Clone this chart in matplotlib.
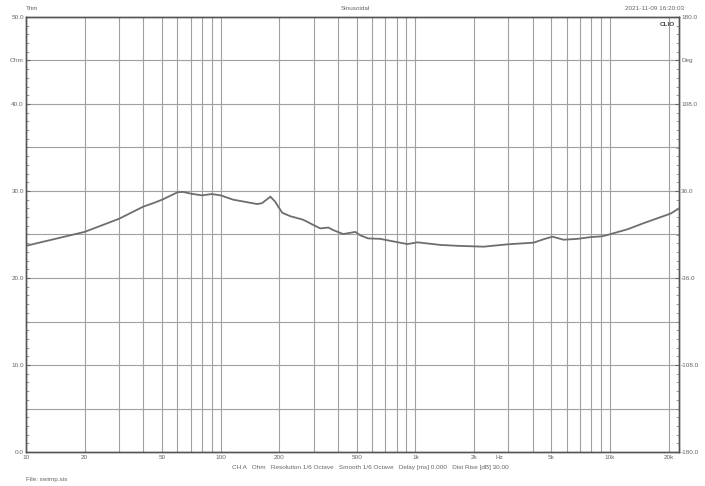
import numpy as np
import matplotlib
matplotlib.use("Agg")
import matplotlib.pyplot as plt
from matplotlib.ticker import FixedLocator, NullFormatter

plt.rcParams['font.family'] = ['Liberation Sans', 'DejaVu Sans']

# impedance curve (Hz, Ohm)
freq = [10, 20, 30, 40, 45, 50, 60, 64, 70, 80, 90, 100, 116, 130, 154, 163,
        180, 190, 207, 228, 265, 299, 325, 357, 379, 426, 492, 521, 573, 660,
        837, 910, 1025, 1345, 1645, 2240, 2970, 4045, 4550, 5060, 5770, 6810,
        7940, 9150, 10070, 12300, 14860, 18200, 20460, 22600]
ohm = [23.7, 25.3, 26.8, 28.2, 28.6, 29.0, 29.85, 29.9, 29.7, 29.5, 29.65, 29.5,
       29.0, 28.8, 28.5, 28.6, 29.35, 28.8, 27.5, 27.1, 26.7, 26.1, 25.7, 25.8,
       25.5, 25.05, 25.3, 24.9, 24.55, 24.5, 24.05, 23.9, 24.1, 23.8, 23.7,
       23.6, 23.87, 24.06, 24.45, 24.75, 24.4, 24.5, 24.7, 24.8, 25.05, 25.6,
       26.3, 27.0, 27.4, 28.0]

xticks = [10, 20, 50, 100, 200, 500, 1000, 2000, 5000, 10000, 20000]
xlabels = ["10", "20", "50", "100", "200", "500", "1k", "2k", "5k", "10k", "20k"]
yticks = [0, 10, 20, 30, 40, 45, 50]
ylabels = ["0.0", "10.0", "20.0", "30.0", "40.0", "Ohm", "50.0"]
rticks = [-180, -108, -36, 36, 108, 144, 180]
rlabels = ["-180.0", "-108.0", "-36.0", "36.0", "108.0", "Deg", "180.0"]

txt = "#666666"
fs = 4.6

fig = plt.figure(figsize=(7.05, 4.86), dpi=100)
ax = fig.add_axes([26/705, 1-452/486, (679-26)/705, (452-17)/486])

# grid
vgrid = [m*10**d for d in range(1, 5) for m in range(1, 10) if 10 < m*10**d < 22600]
for v in vgrid:
    ax.axvline(v, color="#a0a0a0", lw=0.8, zorder=1)
for h in range(5, 50, 5):
    ax.axhline(h, color="#a0a0a0", lw=0.8, zorder=1)

ax.plot(freq, ohm, color="#6e6e6e", lw=1.3, zorder=3)

ax.set_xscale("log")
ax.set_xlim(10, 22600)
ax.set_ylim(0, 50)
ax.xaxis.set_major_locator(FixedLocator(xticks))
ax.set_xticklabels(xlabels)
ax.xaxis.set_minor_locator(FixedLocator([]))
ax.xaxis.set_minor_formatter(NullFormatter())
ax.set_yticks(yticks)
ax.set_yticklabels(ylabels)
ax.yaxis.set_minor_locator(FixedLocator(range(0, 51)))
ax.tick_params(axis="x", length=0, labelsize=fs, labelcolor=txt, pad=2)
ax.tick_params(axis="y", which="major", length=3, direction="in", labelsize=fs, labelcolor=txt, pad=1.5, color="#666666")
ax.tick_params(axis="y", which="minor", length=2, direction="in", color="#888888")
for s in ax.spines.values():
    s.set_color("#555555")
    s.set_linewidth(1.0)

ax2 = ax.twinx()
ax2.set_ylim(-180, 180)
ax2.set_yticks(rticks)
ax2.set_yticklabels(rlabels)
ax2.yaxis.set_minor_locator(FixedLocator(np.arange(-180, 181, 7.2)))
ax2.tick_params(axis="y", which="major", length=3, direction="in", labelsize=fs, labelcolor=txt, pad=1.5, color="#666666")
ax2.tick_params(axis="y", which="minor", length=2, direction="in", color="#888888")
for s in ax2.spines.values():
    s.set_color("#555555")
    s.set_linewidth(1.0)

fig.text(32/705, 1-8/486, "Trim", fontsize=fs, color=txt, ha="center", va="center")
fig.text(355/705, 1-8/486, "Sinusoidal", fontsize=fs, color=txt, ha="center", va="center")
fig.text(655/705, 1-8/486, "2021-11-09 16:20:03", fontsize=fs, color=txt, ha="center", va="center")
ax.text(0.993, 0.988, "CLIO", transform=ax.transAxes, fontsize=fs, color="#444444",
        fontweight="bold", ha="right", va="top")
ax.text(2700, -0.35, "Hz", fontsize=fs, color=txt, ha="center", va="top")
fig.text(370/705, 1-468/486,
         "CH A   Ohm   Resolution 1/6 Octave   Smooth 1/6 Octave   Delay [ms] 0.000   Dist Rise [dB] 30.00",
         fontsize=fs, color=txt, ha="center", va="center")
fig.text(26/705, 1-479/486, "File: swimp.sis", fontsize=fs, color=txt, ha="left", va="center")

fig.savefig("out.png", dpi=100, facecolor="white")
